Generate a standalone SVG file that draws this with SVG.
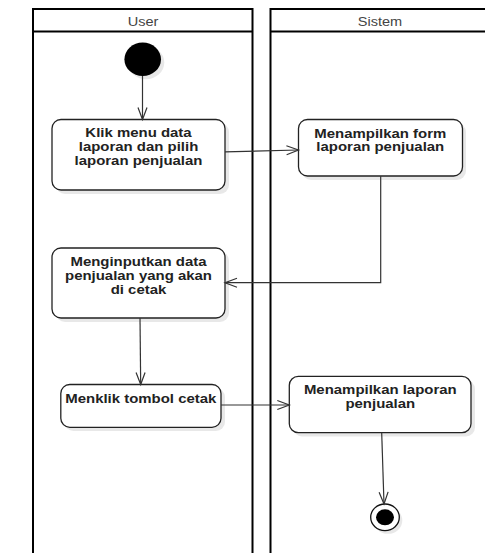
<svg xmlns="http://www.w3.org/2000/svg" width="485" height="553" viewBox="0 0 485 553">
  <style>
    .lane { fill: none; stroke: #000; stroke-width: 2; }
    .hdr { font-family: "Liberation Sans", Arial, sans-serif; font-size: 13px; fill: #444; text-anchor: middle; }
    .box { fill: #fff; stroke: #222; stroke-width: 1.3; }
    .shadow { fill: #000; opacity: 0.09; }
    .lbl { font-family: "Liberation Sans", Arial, sans-serif; font-size: 13px; font-weight: bold; fill: #222; text-anchor: middle; }
    .edge { fill: none; stroke: #333; stroke-width: 1.2; marker-end: url(#open); }
  </style>
  <defs>
    <marker id="open" markerUnits="userSpaceOnUse" markerWidth="14" markerHeight="10" refX="12" refY="4.5" orient="auto" overflow="visible">
      <path d="M0,0 L12,4.5 L0,9" fill="none" stroke="#333" stroke-width="1.2"/>
    </marker>
  </defs>

  <rect width="485" height="553" fill="#fff"/>

  <!-- swimlanes -->
  <g id="lane-user">
    <rect class="lane" x="33" y="9" width="219.5" height="550"/>
    <line class="lane" x1="33" y1="31.5" x2="252.5" y2="31.5"/>
    <text class="hdr" transform="matrix(1.12 0 0 1 143 25.5)">User</text>
  </g>
  <g id="lane-sistem">
    <rect class="lane" x="270.5" y="9" width="225" height="550"/>
    <line class="lane" x1="270.5" y1="31.5" x2="495" y2="31.5"/>
    <text class="hdr" transform="matrix(1.12 0 0 1 380 25.5)">Sistem</text>
  </g>

  <!-- initial node -->
  <g id="start">
    <ellipse class="shadow" cx="146" cy="62.5" rx="18.3" ry="16.7"/>
    <ellipse cx="142.7" cy="59.3" rx="18.3" ry="16.7" fill="#000"/>
  </g>

  <!-- actions -->
  <g id="klik-menu">
    <rect class="shadow" x="56" y="123" width="173" height="71" rx="9"/>
    <rect class="box" x="52" y="119.5" width="173" height="70.5" rx="9"/>
    <text class="lbl" transform="matrix(1.15 0 0 1 138.5 0)"><tspan x="0" y="137.5">Klik menu data</tspan><tspan x="0" y="151.5">laporan dan pilih</tspan><tspan x="0" y="165.5">laporan penjualan</tspan></text>
  </g>
  <g id="tampil-form">
    <rect class="shadow" x="302" y="123" width="164" height="57" rx="9"/>
    <rect class="box" x="298.5" y="119.5" width="164" height="56.5" rx="9"/>
    <text class="lbl" transform="matrix(1.15 0 0 1 380.3 0)"><tspan x="0" y="138">Menampilkan form</tspan><tspan x="0" y="151.5">laporan penjualan</tspan></text>
  </g>
  <g id="input-data">
    <rect class="shadow" x="56" y="251.5" width="173" height="70.5" rx="9"/>
    <rect class="box" x="52" y="248" width="173" height="70" rx="9"/>
    <text class="lbl" transform="matrix(1.15 0 0 1 138.5 0)"><tspan x="0" y="266">Menginputkan data</tspan><tspan x="0" y="280">penjualan yang akan</tspan><tspan x="0" y="294">di cetak</tspan></text>
  </g>
  <g id="klik-cetak">
    <rect class="shadow" x="64.5" y="388" width="160.5" height="43" rx="9"/>
    <rect class="box" x="60.8" y="384.5" width="160.2" height="42.8" rx="9"/>
    <text class="lbl" transform="matrix(1.15 0 0 1 140.8 0)"><tspan x="0" y="403">Menklik tombol cetak</tspan></text>
  </g>
  <g id="tampil-laporan">
    <rect class="shadow" x="293" y="380" width="182" height="56.5" rx="9"/>
    <rect class="box" x="289.3" y="376.3" width="181.7" height="56.4" rx="9"/>
    <text class="lbl" transform="matrix(1.15 0 0 1 380.3 0)"><tspan x="0" y="394.5">Menampilkan laporan</tspan><tspan x="0" y="408.5">penjualan</tspan></text>
  </g>

  <!-- final node -->
  <g id="end">
    <ellipse class="shadow" cx="388" cy="520.5" rx="14.3" ry="13.3"/>
    <ellipse cx="385" cy="517.3" rx="14.3" ry="13.3" fill="#fff" stroke="#111" stroke-width="1.3"/>
    <ellipse cx="385" cy="517.3" rx="9" ry="8" fill="#000"/>
  </g>

  <!-- control flows -->
  <g id="connectors">
    <path class="edge" d="M142.5,76 L142.5,119.5"/>
    <path class="edge" d="M225,151.8 L298.5,150"/>
    <path class="edge" d="M380.7,176 L380.7,282.7 L225,282.7"/>
    <path class="edge" d="M140,318 L140.7,384.5"/>
    <path class="edge" d="M221,405 L289.3,405"/>
    <path class="edge" d="M381.7,432.7 L384,504"/>
  </g>
</svg>
